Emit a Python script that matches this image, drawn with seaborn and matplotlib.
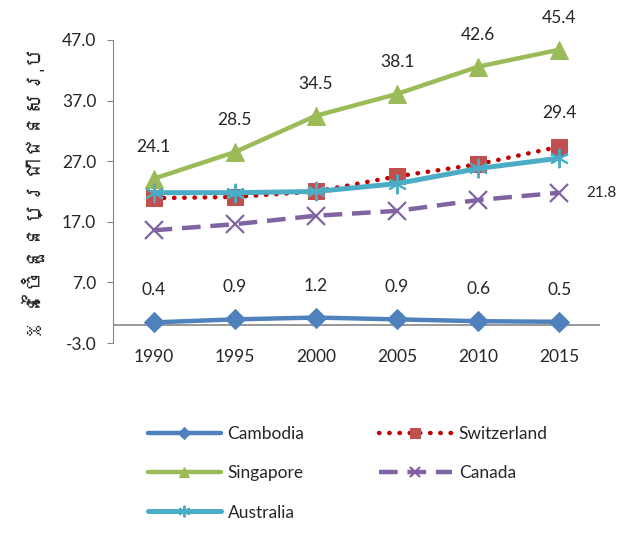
import matplotlib
matplotlib.use("Agg")
import matplotlib.pyplot as plt
from matplotlib import font_manager, ft2font
import seaborn as sns
import pandas as pd

years = ["1990", "1995", "2000", "2005", "2010", "2015"]
cambodia = [0.4, 0.9, 1.2, 0.9, 0.6, 0.5]
switzerland = [20.9, 21.1, 22.0, 24.5, 26.5, 29.4]
singapore = [24.1, 28.5, 34.5, 38.1, 42.6, 45.4]
canada = [15.6, 16.6, 18.0, 18.8, 20.6, 21.8]
australia = [21.8, 21.8, 22.0, 23.3, 25.8, 27.5]
y_ticks = [-3, 7, 17, 27, 37, 47]
y_label = "% នៃចំនួនប្រជាជនសរុប"


def find_font(codepoint):
    """ Return the name of an installed font that has the glyph, if any """
    for f in font_manager.fontManager.ttflist:
        try:
            if codepoint in ft2font.FT2Font(f.fname).get_charmap():
                return f.name
        except Exception:
            pass
    return None


sns.set_style("white")
plt.rcParams["font.family"] = ["Lato", "DejaVu Sans"]
khmer = find_font(0x1793)
label_family = [khmer, "DejaVu Sans"] if khmer else ["DejaVu Sans"]

fig = plt.figure(figsize=(6.21, 5.34), dpi=100)
ax = fig.add_axes([113 / 621, 1 - 343 / 534, 487 / 621, 303 / 534])

x = list(range(len(years)))
series = [
    ("Cambodia", cambodia, dict(color="#4F81BD", lw=3.2, ls="-", marker="D", ms=10, mec="#4F81BD")),
    ("Switzerland", switzerland, dict(color="#C00000", lw=3.2, ls=(0, (0.1, 2.2)), marker="s", ms=11,
                                      mfc="#C0504D", mec="#C0504D", dash_capstyle="round")),
    ("Singapore", singapore, dict(color="#9BBB59", lw=3.2, ls="-", marker="^", ms=13, mec="#9BBB59")),
    ("Canada", canada, dict(color="#8064A2", lw=3.2, ls=(0, (4.2, 2.2)), marker="x", ms=13, mew=1.6,
                            mec="#8064A2")),
    ("Australia", australia, dict(color="#4BACC6", lw=3.6, ls="-", marker=(6, 2, 0), ms=14, mew=1.4,
                                  mec="#4BACC6")),
]

lines = {}
for name, vals, st in series:
    df = pd.DataFrame({"x": x, "y": vals})
    sns.lineplot(data=df, x="x", y="y", ax=ax, label=name, **st)
    lines[name] = ax.get_lines()[-1]

ax.set_xlim(-0.5, 5.5)
ax.set_ylim(-3, 47)
ax.set_yticks(y_ticks)
ax.set_yticklabels([f"{v:.1f}" for v in y_ticks], fontsize=12.5)
ax.set_xticks(x)
ax.set_xticklabels(years, fontsize=12.5)
ax.tick_params(axis="x", length=0, pad=4)
ax.tick_params(axis="y", length=4, color="#868686", direction="out", left=True, pad=8)
for s in ["top", "right", "bottom"]:
    ax.spines[s].set_visible(False)
ax.spines["left"].set_color("#868686")
ax.axhline(0, color="#868686", lw=1.2, zorder=0)
ax.set_xlabel("")
ax.set_ylabel(y_label, fontsize=16, fontweight="bold", family=label_family, labelpad=12)

# data labels
for i, v in enumerate(singapore):
    ax.annotate(f"{v:.1f}", (i, v), xytext=(0, 23), textcoords="offset points",
                ha="center", va="center", fontsize=12.5)
for i, v in enumerate(cambodia):
    ax.annotate(f"{v:.1f}", (i, v), xytext=(0, 23), textcoords="offset points",
                ha="center", va="center", fontsize=12.5)
ax.annotate(f"{switzerland[-1]:.1f}", (5, switzerland[-1]), xytext=(0, 24), textcoords="offset points",
            ha="center", va="center", fontsize=12.5)
ax.annotate(f"{canada[-1]:.1f}", (5, canada[-1]), xytext=(30, 0), textcoords="offset points",
            ha="center", va="center", fontsize=11, annotation_clip=False)

# legend is filled column by column, so order it to read row-wise like the original
order = ["Cambodia", "Singapore", "Australia", "Switzerland", "Canada"]
ax.legend([lines[n] for n in order], order,
          loc="upper left", bbox_to_anchor=(132 / 621, 1 - 410 / 534), bbox_transform=fig.transFigure,
          ncol=2, frameon=False, fontsize=12.5, handlelength=4.2, labelspacing=1.35,
          columnspacing=4.3, handletextpad=0.4, markerscale=0.6)

fig.savefig("out.png", dpi=100)
